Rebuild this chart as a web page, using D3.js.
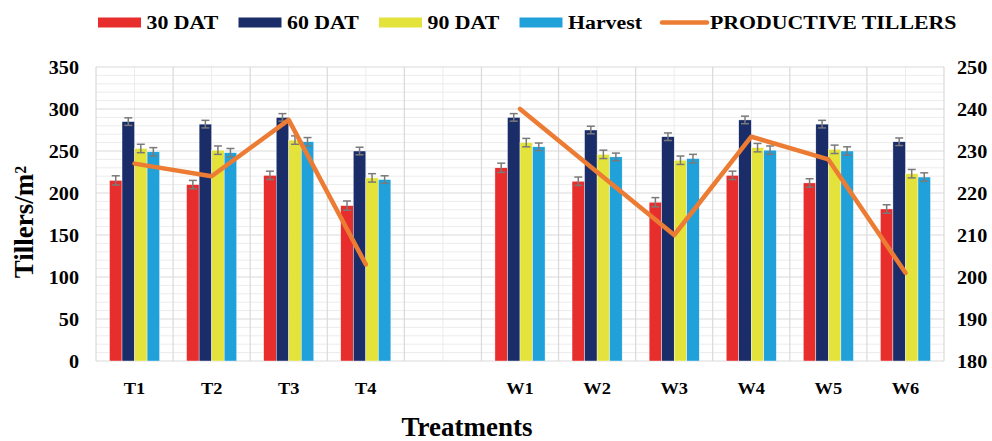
<!DOCTYPE html>
<html><head><meta charset="utf-8">
<script src="https://cdn.jsdelivr.net/npm/d3@7"></script>
<style>
html,body{margin:0;padding:0;background:#fff;}
svg text{font-family:"Liberation Serif","Times New Roman",serif;font-weight:bold;fill:#000;}
</style></head>
<body><svg id="c" width="992" height="441"></svg>
<script>
const categories = ["T1","T2","T3","T4","","W1","W2","W3","W4","W5","W6"];
const seriesNames = ["30 DAT","60 DAT","90 DAT","Harvest"];
const dat30   = [215, 210, 221, 185, null, 230, 214, 189, 221, 212, 181];
const dat60   = [285, 282, 290, 250, null, 290, 275, 267, 287, 282, 261];
const dat90   = [253, 251, 263, 218, null, 260, 246, 239, 254, 252, 223];
const harvest = [249, 248, 261, 216, null, 255, 243, 241, 251, 250, 219];
const err30   = [5.5, 5, 5, 5.5, null, 5.5, 5, 5.5, 5, 5, 5];
const err60   = [4.5, 4.5, 4.5, 4.5, null, 4.5, 4.5, 4.5, 4.5, 4.5, 4.5];
const err90   = [5, 5, 5, 5, null, 5, 5, 5, 5, 5, 5];
const errHarv = [5, 5, 5, 4.5, null, 4.5, 4.5, 5, 5, 5, 5];
const productiveTillers = [227, 224, 237.4, 203, null, 240, 225, 210, 233.4, 228, 201];
const leftTicks = [0, 50, 100, 150, 200, 250, 300, 350];
const rightTicks = [180, 190, 200, 210, 220, 230, 240, 250];

const colors = ["#e82d2d", "#1b2d69", "#e3e33c", "#21a1da"];
const lineColor = "#ec7c33";
const FONT = '"Liberation Serif","Times New Roman",serif';

const svg = d3.select("#c");
const L = 96, R = 944, T = 67, B = 361;

const x = d3.scaleBand().domain(d3.range(categories.length)).range([L, R]).padding(0);
const bw = x.bandwidth();
const xs = d3.scaleBand().domain(d3.range(4)).range([bw * 0.175, bw * 0.825]).padding(0);
const y = d3.scaleLinear().domain([0, 350]).range([B, T]);
const y2 = d3.scaleLinear().domain([180, 250]).range([B, T]);

function stretch(sel, s) {
  sel.each(function () {
    const t = d3.select(this);
    const x0 = +t.attr("x") || 0;
    t.attr("x", 0).attr("transform", `translate(${x0},0) scale(${s},1)`);
  });
}

// minor horizontal grid
const g = svg.append("g");
g.selectAll("line.hmin").data(d3.range(0, 351, 10).filter(v => v % 50 !== 0)).join("line")
  .attr("x1", L).attr("x2", R).attr("y1", d => y(d)).attr("y2", d => y(d))
  .attr("stroke", "#ececec").attr("stroke-width", 1);
// minor vertical grid at category centres
g.selectAll("line.vmin").data(d3.range(categories.length)).join("line")
  .attr("x1", d => x(d) + bw/2).attr("x2", d => x(d) + bw/2)
  .attr("y1", T).attr("y2", B).attr("stroke", "#ececec").attr("stroke-width", 1);
// major horizontal grid
g.selectAll("line.hmaj").data(leftTicks).join("line")
  .attr("x1", L).attr("x2", R).attr("y1", d => y(d)).attr("y2", d => y(d))
  .attr("stroke", "#d9d9d9").attr("stroke-width", 1.2);
// major vertical grid at category boundaries
g.selectAll("line.vmaj").data(d3.range(categories.length + 1)).join("line")
  .attr("x1", d => L + d * bw).attr("x2", d => L + d * bw)
  .attr("y1", T).attr("y2", B).attr("stroke", "#d9d9d9").attr("stroke-width", 1.2);

// bars
const series = [dat30, dat60, dat90, harvest];
const errs = [err30, err60, err90, errHarv];
series.forEach((s, si) => {
  const data = s.map((v, i) => ({i, v, e: errs[si][i]})).filter(d => d.v != null);
  svg.append("g").selectAll("rect").data(data).join("rect")
    .attr("x", d => x(d.i) + xs(si)).attr("width", xs.bandwidth())
    .attr("y", d => y(d.v)).attr("height", d => y(0) - y(d.v))
    .attr("fill", colors[si]).attr("stroke", "#fff").attr("stroke-width", 0.4);
});
// error bars
series.forEach((s, si) => {
  const data = s.map((v, i) => ({i, v, e: errs[si][i]})).filter(d => d.v != null);
  const eg = svg.append("g").attr("stroke", "#7a7a7a").attr("stroke-width", 1.5);
  data.forEach(d => {
    const cx = x(d.i) + xs(si) + xs.bandwidth()/2;
    eg.append("line").attr("x1", cx).attr("x2", cx).attr("y1", y(d.v + d.e)).attr("y2", y(d.v - d.e));
    eg.append("line").attr("x1", cx - 4).attr("x2", cx + 4).attr("y1", y(d.v + d.e)).attr("y2", y(d.v + d.e));
    eg.append("line").attr("x1", cx - 4).attr("x2", cx + 4).attr("y1", y(d.v - d.e)).attr("y2", y(d.v - d.e));
  });
});

// line
const line = d3.line().defined(d => d != null)
  .x((d, i) => x(i) + bw/2).y(d => y2(d));
svg.append("path").datum(productiveTillers).attr("d", line)
  .attr("fill", "none").attr("stroke", lineColor).attr("stroke-width", 4.5)
  .attr("stroke-linejoin", "round").attr("stroke-linecap", "round");

// axes
const yAxisL = d3.axisLeft(y).tickValues(leftTicks).tickSize(0).tickPadding(0);
const ga = svg.append("g").attr("transform", `translate(${79},0)`).call(yAxisL)
  .attr("font-family", FONT);
ga.select(".domain").remove();
ga.selectAll("text").style("font-size", "18px").attr("dy", "0.34em").call(stretch, 1.12);

const yAxisR = d3.axisRight(y2).tickValues(rightTicks).tickSize(0).tickPadding(0);
const gr = svg.append("g").attr("transform", `translate(${957},0)`).call(yAxisR)
  .attr("font-family", FONT);
gr.select(".domain").remove();
gr.selectAll("text").style("font-size", "18px").attr("dy", "0.34em").call(stretch, 1.12);

const xAxis = d3.axisBottom(x).tickFormat(i => categories[i]).tickSize(0).tickPadding(0);
const gx = svg.append("g").attr("transform", `translate(0,${378})`).call(xAxis)
  .attr("font-family", FONT);
gx.select(".domain").remove();
gx.selectAll("text").style("font-size", "17.5px").attr("dy", "0.71em").attr("y", 4).call(stretch, 1.05);

// axis titles
svg.append("text").attr("x", 467).attr("y", 436).attr("text-anchor", "middle")
  .style("font-size", "27px").text("Treatments");
const yt = svg.append("text").attr("transform", "translate(33,222) rotate(-90)")
  .attr("text-anchor", "middle").style("font-size", "27px");
yt.append("tspan").text("Tillers/m");
yt.append("tspan").attr("dy", "-0.45em").style("font-size", "16px").text("2");

// legend
const legItems = seriesNames.map((n, i) => ({n, c: colors[i], type: "rect"}))
  .concat([{n: "PRODUCTIVE TILLERS", c: lineColor, type: "line"}]);
const lg = svg.append("g");
legItems.forEach((d, i) => {
  const x0 = 98 + i * 140.5;
  if (d.type === "rect") {
    lg.append("rect").attr("x", x0).attr("y", 17.5).attr("width", 43).attr("height", 10).attr("fill", d.c);
  } else {
    lg.append("line").attr("x1", x0 + 2).attr("x2", x0 + 47).attr("y1", 22.5).attr("y2", 22.5)
      .attr("stroke", d.c).attr("stroke-width", 4.5).attr("stroke-linecap", "round");
  }
  lg.append("text").attr("x", x0 + (d.type === "rect" ? 48.5 : 50)).attr("y", 29)
    .style("font-size", "19.5px").text(d.n).call(stretch, 1.12);
});
</script></body></html>
